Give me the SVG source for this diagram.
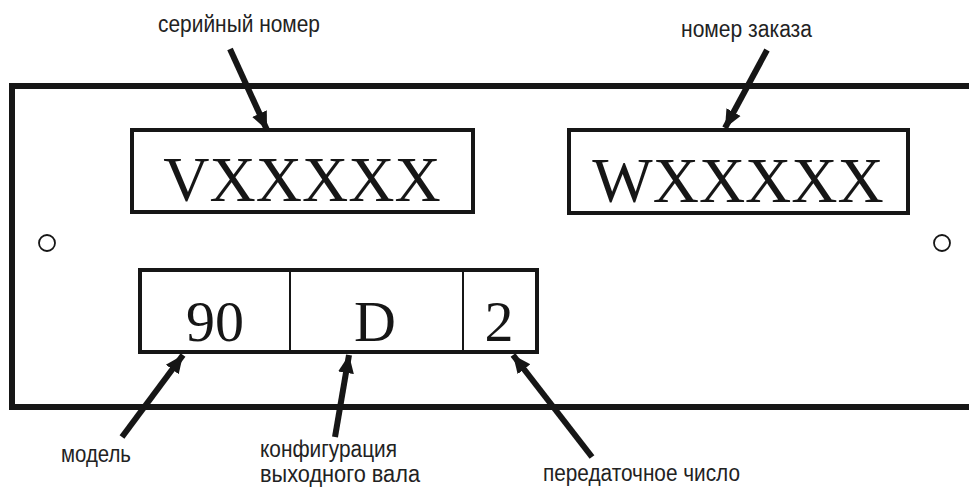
<svg xmlns="http://www.w3.org/2000/svg" width="969" height="487" viewBox="0 0 969 487">
  <style>
    .frame { fill: none; stroke: #161616; stroke-width: 6; }
    .box { fill: #fff; stroke: #161616; stroke-width: 4; }
    .div { stroke: #161616; stroke-width: 2; }
    .code { font-family: "Liberation Serif", "Times New Roman", serif; fill: #161616; text-anchor: middle; }
    .lbl { font-family: "Liberation Sans", Arial, sans-serif; font-size: 23px; fill: #222; }
    .hole { fill: none; stroke: #161616; stroke-width: 1.8; }
    .arrow { stroke: #161616; stroke-width: 6; fill: none; marker-end: url(#head); }
  </style>
  <defs>
    <marker id="head" markerUnits="userSpaceOnUse" markerWidth="20" markerHeight="20" viewBox="0 0 20 20" refX="18" refY="10" orient="auto">
      <polygon points="0,2 18,10 0,18" fill="#161616"/>
    </marker>
  </defs>

  <rect width="969" height="487" fill="#fff"/>

  <!-- plate outline, open on the right -->
  <g id="plate">
    <polyline class="frame" points="972,86 12,86 12,407 972,407"/>
    <circle class="hole" cx="47" cy="243" r="8"/>
    <circle class="hole" cx="942" cy="243" r="8"/>
  </g>

  <g id="serial">
    <rect class="box" x="132" y="130" width="341" height="82"/>
    <text class="code" x="302" y="201" font-size="64">VXXXXX</text>
  </g>

  <g id="order">
    <rect class="box" x="569" y="130" width="339" height="83"/>
    <text class="code" x="738" y="202" font-size="64">WXXXXX</text>
  </g>

  <g id="model-code">
    <rect class="box" x="140" y="270" width="397" height="82"/>
    <line class="div" x1="290" y1="270" x2="290" y2="352"/>
    <line class="div" x1="463" y1="270" x2="463" y2="352"/>
    <text class="code" x="215" y="341" font-size="58">90</text>
    <text class="code" x="375" y="341" font-size="58">D</text>
    <text class="code" x="499" y="341" font-size="58">2</text>
  </g>

  <g id="labels">
    <text class="lbl" x="158" y="32" textLength="162" lengthAdjust="spacingAndGlyphs">серийный номер</text>
    <text class="lbl" x="681" y="37" textLength="131" lengthAdjust="spacingAndGlyphs">номер заказа</text>
    <text class="lbl" x="61" y="462" textLength="70" lengthAdjust="spacingAndGlyphs">модель</text>
    <text class="lbl" x="260" y="457" textLength="137" lengthAdjust="spacingAndGlyphs">конфигурация</text>
    <text class="lbl" x="260" y="482" textLength="160" lengthAdjust="spacingAndGlyphs">выходного вала</text>
    <text class="lbl" x="543" y="481" textLength="197" lengthAdjust="spacingAndGlyphs">передаточное число</text>
  </g>

  <g id="connectors">
    <line class="arrow" x1="230" y1="49" x2="267" y2="130"/>
    <line class="arrow" x1="767" y1="50" x2="725" y2="128"/>
    <line class="arrow" x1="122" y1="437" x2="183" y2="355"/>
    <line class="arrow" x1="335" y1="437" x2="349" y2="355"/>
    <line class="arrow" x1="592" y1="457" x2="513" y2="355"/>
  </g>
</svg>
